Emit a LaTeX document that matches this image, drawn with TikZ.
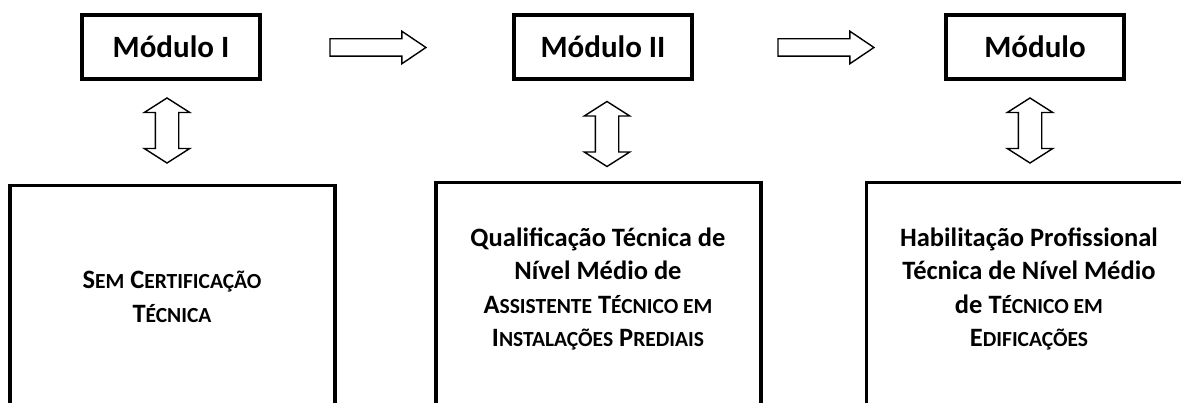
\documentclass[tikz,border=0pt]{standalone}
\usepackage{fontspec}
\setmainfont{Carlito}
\usetikzlibrary{shapes.arrows}
\newcommand\smc[1]{{\fontsize{21.5}{33}\selectfont #1}}
\tikzset{
  modbox/.style={draw, line width=3.2pt, minimum width=178pt, minimum height=64pt, inner sep=0pt,
    font=\fontsize{31}{36}\selectfont\bfseries},
  bigbox/.style={draw, line width=3.5pt, minimum width=325pt, minimum height=320pt, anchor=north},
  boxtext/.style={align=center, inner sep=0pt, font=\fontsize{26.5}{33.5}\selectfont\bfseries},
  harrow/.style={single arrow, draw, line width=1.4pt, inner sep=8pt, minimum height=96pt,
    minimum width=31pt, single arrow tip angle=68, single arrow head extend=7.5pt},
  varrow/.style={double arrow, draw, line width=1.4pt, inner sep=11pt, minimum height=65pt,
    minimum width=44pt, double arrow tip angle=115, double arrow head extend=11pt, rotate=90},
}
\begin{document}
\begin{tikzpicture}[x=1pt,y=-1pt]
\clip (0,0) rectangle (1181,403);
\node[modbox] (m1) at (171,47) {Módulo I};
\node[modbox] (m2) at (603,47) {Módulo II};
\node[modbox] (m3) at (1035,47) {Módulo};
\node[harrow] (h1) at (371.5,47.5) {};
\node[harrow] (h2) at (819.5,47.5) {};
\node[varrow] (v1) at (167,130.5) {};
\node[varrow] (v2) at (607,134) {};
\node[varrow] (v3) at (1030,130.5) {};
\node[bigbox] (b1) at (172.5,184) {};
\node[bigbox] (b2) at (598.5,181) {};
\node[bigbox] (b3) at (1029,181) {};
\node[boxtext] (t1) at (172,297) {S\smc{EM} C\smc{ERTIFICAÇÃO}\\T\smc{ÉCNICA}};
\node[boxtext] (t2) at (598,289) {Qualificação Técnica de\\Nível Médio de\\A\smc{SSISTENTE} T\smc{ÉCNICO EM}\\I\smc{NSTALAÇÕES} P\smc{REDIAIS}};
\node[boxtext] (t3) at (1029,289) {Habilitação Profissional\\Técnica de Nível Médio\\de T\smc{ÉCNICO EM}\\E\smc{DIFICAÇÕES}};
\end{tikzpicture}
\end{document}
